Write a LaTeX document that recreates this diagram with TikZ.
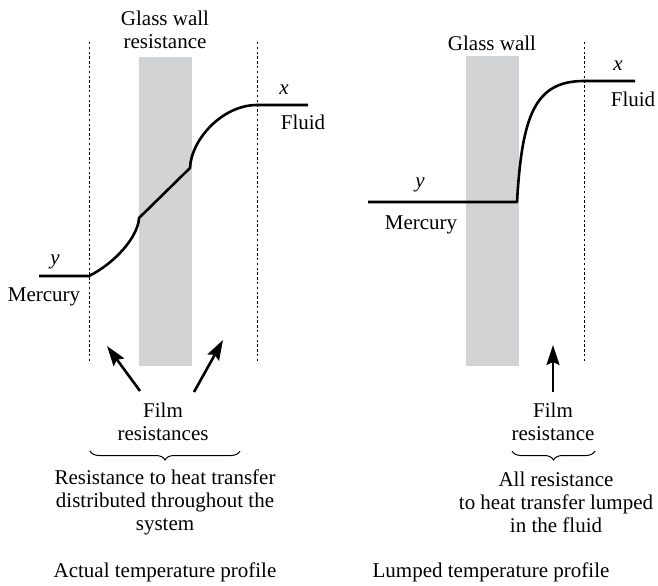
\documentclass[tikz,border=0pt]{standalone}
\usepackage{fontspec}
\setmainfont{Liberation Serif}
\usetikzlibrary{arrows.meta, decorations.pathreplacing, positioning}
\definecolor{wallgray}{RGB}{210,211,213}

\begin{document}
\begin{tikzpicture}[x=0.5pt, y=0.5pt, >={Stealth[length=10pt, width=6.5pt, inset=1.5pt]},
    every node/.style={font=\fontsize{10.5}{11.5}\selectfont, inner sep=0pt, align=center},
    wall/.style={fill=wallgray, draw=none},
    filmline/.style={dash pattern=on 1.2pt off 1.2pt, line width=0.5pt},
    profile/.style={line width=1.3pt, line join=round},
    pointer/.style={->, line width=1.3pt},
    curly/.style={decorate, decoration={brace, amplitude=4.5pt, mirror}, line width=0.5pt}]
    \useasboundingbox (0,0) rectangle (658,585);

    % Actual profile: walls and film boundaries
    \fill[wall] (139,219) rectangle (192,528);
    \draw[filmline] (89,543) -- (89,222);
    \draw[filmline] (257,543) -- (257,222);
    \node (glassA) at (165,555) {Glass wall\\resistance};

    % Actual temperature curve
    \draw[profile] (39,309) -- (89,309) .. controls (115,322) and (138,348) .. (139,367)
        -- (190,417) .. controls (191,445) and (222,480) .. (257,480) -- (308,480);
    \node (yA) at (55,323) {\textit{y}};
    \node (merA) at (44,288) {Mercury};
    \node (xA) at (284,495) {\textit{x}};
    \node (fluA) at (303,463) {Fluid};

    % Film resistances
    \node (filmA) at (163,163) {Film\\resistances};
    \coordinate (tailAl) at (140,194);
    \coordinate (tipAl) at (107,239);
    \coordinate (tailAr) at (194,193);
    \coordinate (tipAr) at (223,245);
    \draw[pointer] (tailAl) -- (tipAl);
    \draw[pointer] (tailAr) -- (tipAr);
    \coordinate (brAl) at (90,134);
    \coordinate (brAr) at (240,134);
    \draw[curly] (brAl) -- (brAr);
    \node (noteA) at (165,83) {Resistance to heat transfer\\distributed throughout the\\system};
    \node (capA) at (165,13) {Actual temperature profile};

    % Lumped profile: wall and film boundary
    \fill[wall] (466,219) rectangle (519,529);
    \draw[filmline] (584,543) -- (584,222);
    \node (glassB) at (492,542) {Glass wall};

    % Lumped temperature curve
    \draw[profile] (368,383) -- (517,383) .. controls (522,470) and (535,504) .. (584,504) -- (635,504);
    \node (yB) at (420,400) {\textit{y}};
    \node (merB) at (421,360) {Mercury};
    \node (xB) at (618,519) {\textit{x}};
    \node (fluB) at (633,486) {Fluid};

    % Film resistance
    \node (filmB) at (553,163) {Film\\resistance};
    \coordinate (tailB) at (553,193);
    \coordinate (tipB) at (553,240);
    \draw[pointer] (tailB) -- (tipB);
    \coordinate (brBl) at (512,134);
    \coordinate (brBr) at (595,134);
    \draw[curly] (brBl) -- (brBr);
    \node (noteB) at (556,83) {All resistance\\to heat transfer lumped\\in the fluid};
    \node (capB) at (491,13) {Lumped temperature profile};
\end{tikzpicture}
\end{document}
